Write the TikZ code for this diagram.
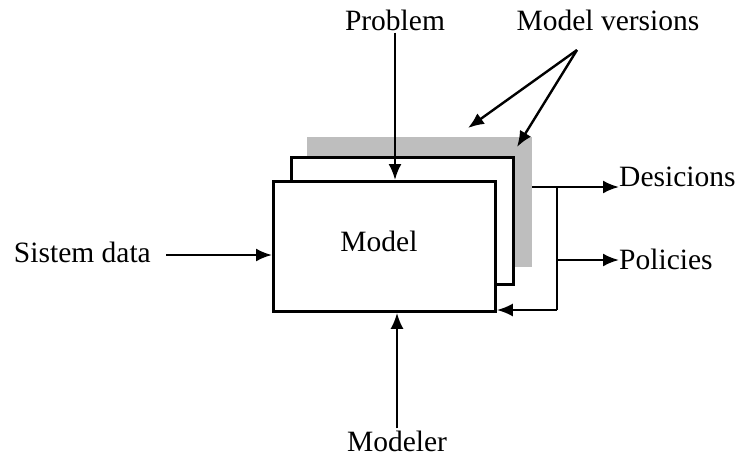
\documentclass[tikz,border=0pt]{standalone}
\usepackage{fontspec}
\setmainfont{Liberation Serif}
\usetikzlibrary{arrows.meta}
\definecolor{shade}{RGB}{190,190,190}
\begin{document}
\begin{tikzpicture}[x=1pt,y=-1pt,
  lbl/.style={font=\fontsize{29.5}{32}\selectfont, inner sep=2pt},
  card/.style={draw=black, line width=2.8pt, fill=white, anchor=north west, inner sep=0pt},
  conn/.style={line width=2.4pt, -{Latex[length=16pt,width=13pt]}},
  plain/.style={line width=2.4pt}]
\useasboundingbox (0,0) rectangle (736,472);
% stacked model versions
\node[fill=shade, anchor=north west, minimum width=225pt, minimum height=130pt, inner sep=0pt] (gray) at (307,137) {};
\node[card, minimum width=222pt, minimum height=127pt] (mid) at (290,156) {};
\node[card, minimum width=222pt, minimum height=130pt] (front) at (272,180) {};
% labels
\node[lbl] (model) at (379,241) {Model};
\node[lbl] (problem) at (395,20) {Problem};
\node[lbl] (versions) at (608,20) {Model versions};
\node[lbl, anchor=east, inner sep=0pt] (sistem) at (151,252) {Sistem data};
\node[lbl] (modeler) at (397,441) {Modeler};
\node[lbl, anchor=base west, inner sep=0pt] (desic) at (619,186) {Desicions};
\node[lbl, anchor=base west, inner sep=0pt] (policies) at (619,269) {Policies};
% coordinates
\coordinate (sstart) at (166,255);
\coordinate (vtop) at (577,50);
\coordinate (d1) at (532,187);
\coordinate (j1) at (557,187);
\coordinate (j2) at (557,260);
\coordinate (j3) at (557,310);
% connectors
\draw[conn] (problem.south) -- (problem.south |- front.north);
\draw[conn] (modeler.north) -- (modeler.north |- front.south);
\draw[conn] (sstart) -- (front.west |- sstart);
\draw[conn] (vtop) -- (468,128);
\draw[conn] (vtop) -- (517,147);
\draw[conn] (d1) -- (desic.west |- d1);
\draw[plain] (j1) -- (j3);
\draw[conn] (j2) -- (policies.west |- j2);
\draw[conn] (j3) -- (front.east |- j3);
\end{tikzpicture}
\end{document}
